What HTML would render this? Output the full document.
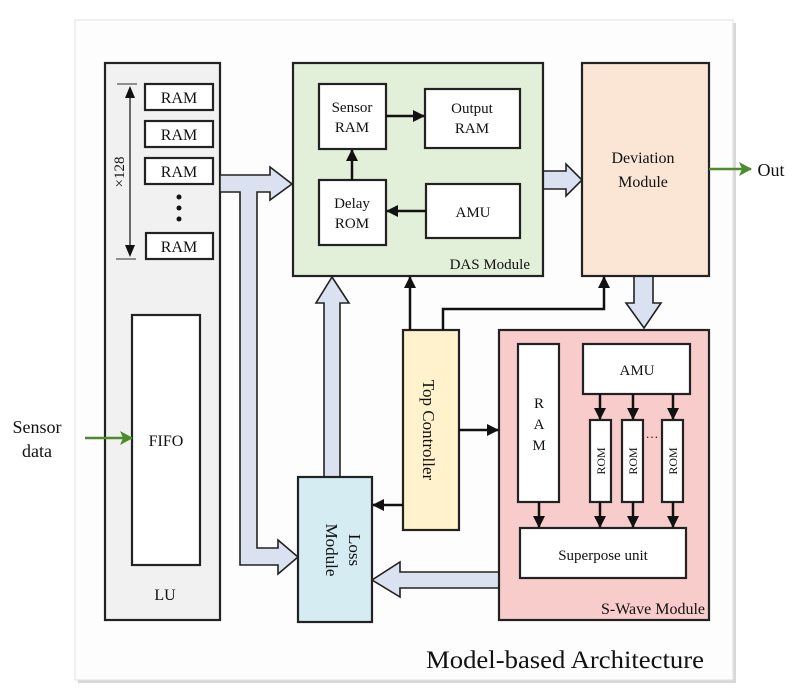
<!DOCTYPE html>
<html><head><meta charset="utf-8"><style>
html,body{margin:0;padding:0;background:#fff;width:798px;height:698px;overflow:hidden}
svg{display:block}
text{font-family:"Liberation Serif",serif;fill:#111}
</style></head><body>
<svg width="798" height="698" viewBox="0 0 798 698" xmlns="http://www.w3.org/2000/svg">
<defs>
<marker id="ah" markerWidth="12" markerHeight="12" refX="11" refY="6" orient="auto" markerUnits="userSpaceOnUse"><path d="M0,0 L12,6 L0,12 Z" fill="#111"/></marker>
<marker id="ahg" markerWidth="14" markerHeight="14" refX="12" refY="7" orient="auto" markerUnits="userSpaceOnUse"><path d="M0,0 L13,7 L0,14 L3,7 Z" fill="#4c8c2e"/></marker>
</defs>
<rect x="78" y="23" width="658" height="660" fill="#d8d8d8"/>
<rect x="75" y="20" width="658" height="660" fill="#fdfdfd" stroke="#e2e2e2"/>

<g stroke="#222" stroke-width="2.2">
<rect x="105" y="63" width="115" height="557" fill="#f1f1f1"/>
<rect x="132" y="315" width="68" height="250" fill="#fff"/>
<g fill="#fff">
<rect x="145" y="84" width="68" height="26"/>
<rect x="145" y="121" width="68" height="26"/>
<rect x="145" y="158" width="68" height="26"/>
<rect x="146" y="233" width="67" height="26"/>
</g>
</g>
<g stroke="#555" stroke-width="1.3"><line x1="117" y1="84" x2="137" y2="84"/><line x1="116" y1="259" x2="136" y2="259"/></g>
<line x1="130" y1="92" x2="130" y2="250" stroke="#222" stroke-width="1.3"/>
<path d="M125,98 L130,86 L135,98 Z M125,245 L130,257 L135,245 Z" fill="#111"/>
<circle cx="179" cy="197" r="2.5" fill="#111"/><circle cx="179" cy="208" r="2.5" fill="#111"/><circle cx="179" cy="219" r="2.5" fill="#111"/>
<text x="0" y="0" font-size="15" text-anchor="middle" transform="translate(124,172) rotate(-90)">×128</text>
<g font-size="16" text-anchor="middle">
<text x="179" y="103">RAM</text><text x="179" y="140">RAM</text><text x="179" y="177">RAM</text><text x="179" y="252">RAM</text>
<text x="166" y="446">FIFO</text>
<text x="165" y="600">LU</text>
</g>
<text x="37" y="433" font-size="18" text-anchor="middle">Sensor</text>
<text x="37" y="457" font-size="18" text-anchor="middle">data</text>
<line x1="85" y1="438" x2="132" y2="438" stroke="#4c8c2e" stroke-width="2.5" marker-end="url(#ahg)"/>

<g fill="#dae1f0" stroke="#222" stroke-width="1.6" stroke-linejoin="miter">
<path d="M220,175 L270,175 L270,167 L292,184 L270,200 L270,192 L257,192 L257,548 L278,548 L278,540 L298,557 L278,574 L278,565 L240,565 L240,192 L220,192 Z"/>
<path d="M324,477 L324,303 L316,303 L332,277 L349,303 L340,303 L340,477 Z"/>
<path d="M499,572 L400,572 L400,562 L372,580 L400,597 L400,588 L499,588 Z"/>
<path d="M543,171 L566,171 L566,164 L582,180 L566,196 L566,189 L543,189 Z"/>
<path d="M634,276 L634,303 L626,303 L644,328 L661,303 L653,303 L653,276 Z"/>
</g>

<g stroke="#222" stroke-width="2.2">
<rect x="293" y="63" width="250" height="213" fill="#e2efd9"/>
<g fill="#fff">
<rect x="319" y="84" width="67" height="65"/>
<rect x="425" y="89" width="95" height="59"/>
<rect x="319" y="180" width="67" height="65"/>
<rect x="426" y="184" width="94" height="54"/>
</g>
<rect x="582" y="63" width="127" height="213" fill="#fbe5d5"/>
<rect x="298" y="477" width="74" height="145" fill="#d5ecf3"/>
<rect x="403" y="330" width="56" height="200" fill="#fff2cc"/>
<rect x="499" y="330" width="210" height="290" fill="#f9cccc"/>
<g fill="#fff">
<rect x="518" y="344" width="41" height="158"/>
<rect x="583" y="344" width="107" height="50"/>
<rect x="590" y="420" width="21" height="82"/>
<rect x="622" y="420" width="21" height="82"/>
<rect x="662" y="420" width="21" height="82"/>
<rect x="520" y="528" width="166" height="50"/>
</g>
</g>
<g stroke="#111" stroke-width="2.5" fill="none">
<line x1="386" y1="116" x2="424" y2="116" marker-end="url(#ah)"/>
<line x1="352" y1="180" x2="352" y2="150" marker-end="url(#ah)"/>
<line x1="426" y1="211" x2="387" y2="211" marker-end="url(#ah)"/>
<line x1="410" y1="330" x2="410" y2="277" marker-end="url(#ah)"/>
<polyline points="443,330 443,309 604,309 604,277" marker-end="url(#ah)"/>
<line x1="459" y1="430" x2="498" y2="430" marker-end="url(#ah)"/>
<line x1="403" y1="505" x2="373" y2="505" marker-end="url(#ah)"/>
<line x1="600" y1="394" x2="600" y2="419" marker-end="url(#ah)"/>
<line x1="633" y1="394" x2="633" y2="419" marker-end="url(#ah)"/>
<line x1="673" y1="394" x2="673" y2="419" marker-end="url(#ah)"/>
<line x1="539" y1="502" x2="539" y2="527" marker-end="url(#ah)"/>
<line x1="600" y1="502" x2="600" y2="527" marker-end="url(#ah)"/>
<line x1="633" y1="502" x2="633" y2="527" marker-end="url(#ah)"/>
<line x1="673" y1="502" x2="673" y2="527" marker-end="url(#ah)"/>
</g>
<line x1="709" y1="169" x2="751" y2="169" stroke="#4c8c2e" stroke-width="2.5" marker-end="url(#ahg)"/>
<text x="771" y="176" font-size="18" text-anchor="middle">Out</text>

<g font-size="15" text-anchor="middle">
<text x="352" y="112">Sensor</text><text x="352" y="132">RAM</text>
<text x="472" y="113">Output</text><text x="472" y="133">RAM</text>
<text x="352" y="208">Delay</text><text x="352" y="228">ROM</text>
<text x="473" y="217">AMU</text>
<text x="637" y="375">AMU</text>
<text x="603" y="560">Superpose unit</text>
<text x="539" y="408">R</text><text x="539" y="429">A</text><text x="539" y="450">M</text>
</g>
<text x="530" y="269" font-size="15" text-anchor="end">DAS Module</text>
<text x="705" y="614" font-size="16" text-anchor="end">S-Wave Module</text>
<g font-size="16" text-anchor="middle">
<text x="643" y="163">Deviation</text><text x="643" y="187">Module</text>
</g>
<g font-size="12" text-anchor="middle">
<text transform="translate(605,461) rotate(-90)">ROM</text>
<text transform="translate(637,461) rotate(-90)">ROM</text>
<text transform="translate(677,461) rotate(-90)">ROM</text>
</g>
<text x="652" y="438" font-size="13" text-anchor="middle">…</text>
<text transform="translate(423,430) rotate(90)" font-size="17" text-anchor="middle">Top Controller</text>
<text transform="translate(349,550) rotate(90)" font-size="17" text-anchor="middle">Loss</text>
<text transform="translate(326,550) rotate(90)" font-size="17" text-anchor="middle">Module</text>
<text x="426" y="668" font-size="25" textLength="278" lengthAdjust="spacingAndGlyphs">Model-based Architecture</text>
</svg>
</body></html>
